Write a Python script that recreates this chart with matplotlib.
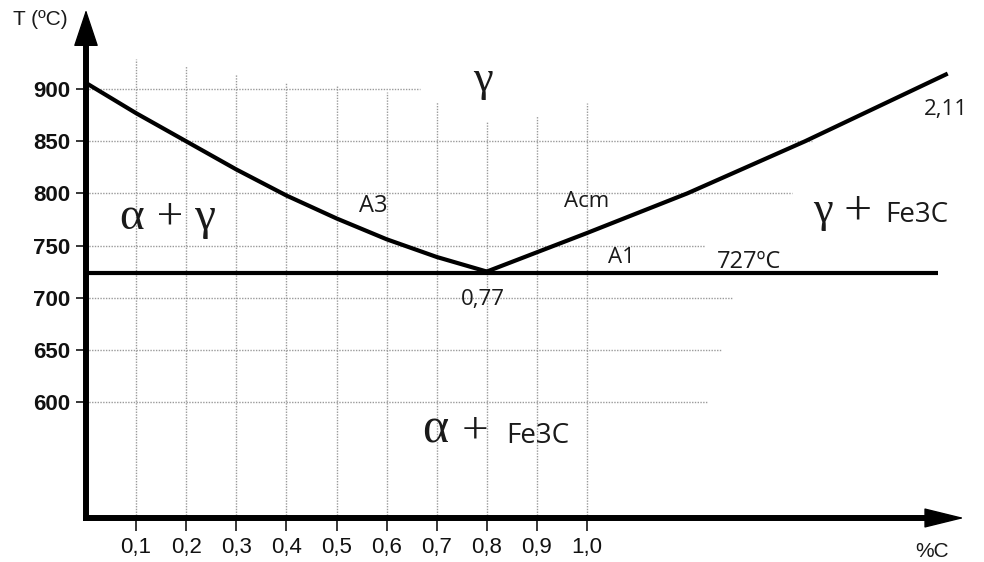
import matplotlib
matplotlib.use("Agg")
import matplotlib.pyplot as plt

# ---------------- data ----------------
carbon_ticks = [0.1, 0.2, 0.3, 0.4, 0.5, 0.6, 0.7, 0.8, 0.9, 1.0]
carbon_tick_labels = ["0,1", "0,2", "0,3", "0,4", "0,5", "0,6", "0,7", "0,8", "0,9", "1,0"]
temp_ticks = [600, 650, 700, 750, 800, 850, 900]
temp_tick_labels = ["600", "650", "700", "750", "800", "850", "900"]

# A3 line (alpha+gamma / gamma boundary)
a3_carbon = [0.0, 0.1, 0.2, 0.3, 0.4, 0.5, 0.6, 0.7, 0.8]
a3_temp = [906, 877, 850, 823, 798, 776, 756, 739, 725]

# Acm line (gamma / gamma+Fe3C boundary)
acm_carbon = [0.8, 1.0, 1.2, 1.435, 1.72]
acm_temp = [725, 762, 800, 850, 915]

# A1 eutectoid isotherm
a1_carbon = [0.0, 1.70]
a1_temp = 724

# dotted guide-line extents
hgrid_temp = [900, 850, 800, 750, 700, 650, 600]
hgrid_end = [0.667, 1.45, 1.41, 1.235, 1.29, 1.267, 1.242]
vgrid_carbon = [0.1, 0.2, 0.3, 0.4, 0.5, 0.6, 0.7, 0.8, 0.9, 1.0]
vgrid_top = [929, 922, 915, 906, 903, 897, 888, 869, 874, 887]

# ---------------- figure ----------------
W, H = 984, 562
fig = plt.figure(figsize=(W / 100, H / 100), dpi=100)
ax_left, ax_bottom, ax_right, ax_top = 86, 44, 935, 522  # pixels from left / bottom
ax = fig.add_axes([ax_left / W, ax_bottom / H, (ax_right - ax_left) / W, (ax_top - ax_bottom) / H])

px_per_c = 501.0
px_per_t = 1.042
xmax = (ax_right - ax_left) / px_per_c
ymin = 488.5
ymax = ymin + (ax_top - ax_bottom) / px_per_t
ax.set_xlim(0, xmax)
ax.set_ylim(ymin, ymax)

for s in ["top", "right"]:
    ax.spines[s].set_visible(False)
for s in ["left", "bottom"]:
    ax.spines[s].set_linewidth(4.3)
    ax.spines[s].set_capstyle("projecting")

# arrow heads
ax.annotate("", xy=(0, ymax + 29), xytext=(0, ymax - 2), xycoords="data",
            arrowprops=dict(arrowstyle="-|>,head_length=1.2,head_width=0.4",
                            mutation_scale=20, color="k", lw=1, shrinkA=0, shrinkB=0),
            annotation_clip=False)
ax.annotate("", xy=(xmax + 0.058, ymin), xytext=(xmax - 0.005, ymin),
            arrowprops=dict(arrowstyle="-|>,head_length=1.3,head_width=0.32",
                            mutation_scale=20, color="k", lw=1, shrinkA=0, shrinkB=0),
            annotation_clip=False)

# ticks
tick_font = ["Liberation Sans", "DejaVu Sans"]
ax.set_yticks(temp_ticks)
ax.set_yticklabels(temp_tick_labels, fontsize=16, fontweight="bold", family=tick_font, color="#111111")
ax.set_xticks(carbon_ticks)
ax.set_xticklabels(carbon_tick_labels, fontsize=16, family=tick_font, color="#111111")
ax.tick_params(axis="y", direction="out", length=7.2, width=1.1, pad=4.3)
ax.tick_params(axis="x", direction="out", length=9.4, width=1.1, pad=4.5)

# dotted guide lines
grid_kw = dict(color="#9a9a9a", lw=1.0, linestyles=(0, (1, 1)), zorder=1)
for t, xe in zip(hgrid_temp, hgrid_end):
    ax.hlines(t, 0, xe, **grid_kw)
for c, yt in zip(vgrid_carbon, vgrid_top):
    ax.vlines(c, ymin, yt, **grid_kw)

# phase boundary lines
ax.plot(a3_carbon, a3_temp, color="k", lw=3.0, solid_capstyle="butt", zorder=3)
ax.plot(acm_carbon, acm_temp, color="k", lw=3.0, solid_capstyle="butt", zorder=3, clip_on=False)
ax.hlines(a1_temp, a1_carbon[0], a1_carbon[1], color="k", lw=3.0, zorder=3, clip_on=False)

# text labels
sans = ["Open Sans", "DejaVu Sans"]
serif = ["Liberation Serif", "DejaVu Serif"]
tc = "#1a1a1a"

ax.text(-0.092, 967, "T (ºC)", family=["Liberation Sans", "DejaVu Sans"], fontsize=15,
        ha="center", va="center", color=tc)
ax.text(1.689, 456.7, "%C", family=["Liberation Sans", "DejaVu Sans"], fontsize=15,
        ha="center", va="center", color=tc)

ax.text(0.573, 781.7, "A3", family=sans, fontsize=17, ha="center", va="baseline", color=tc)
ax.text(1.0, 786.5, "Acm", family=sans, fontsize=16, ha="center", va="baseline", color=tc)
ax.text(1.068, 733.7, "A1", family=sans, fontsize=16, ha="center", va="baseline", color=tc)
ax.text(1.323, 728.8, "727ºC", family=sans, fontsize=17, ha="center", va="baseline", color=tc)
ax.text(0.792, 693.3, "0,77", family=sans, fontsize=16, ha="center", va="baseline", color=tc)
ax.text(1.717, 875, "2,11", family=sans, fontsize=16, ha="center", va="baseline", color=tc)

ax.text(0.792, 898, "γ", family=serif, fontsize=32, ha="center", va="baseline", color=tc)
ax.text(0.164, 766, "α + γ", family=serif, fontsize=34, ha="center", va="baseline", color=tc)
ax.text(1.451, 773, "γ", family=serif, fontsize=32, ha="left", va="baseline", color=tc)
ax.text(1.540, 770, "+", family=serif, fontsize=36, ha="center", va="baseline", color=tc)
ax.text(1.595, 773, "Fe3C", family=sans, fontsize=20, ha="left", va="baseline", color=tc)
ax.text(0.671, 560.6, "α", family=serif, fontsize=36, ha="left", va="baseline", color=tc)
ax.text(0.777, 560.6, "+", family=serif, fontsize=34, ha="center", va="baseline", color=tc)
ax.text(0.838, 560.6, "Fe3C", family=sans, fontsize=20, ha="left", va="baseline", color=tc)

fig.savefig("out.png", dpi=100)
